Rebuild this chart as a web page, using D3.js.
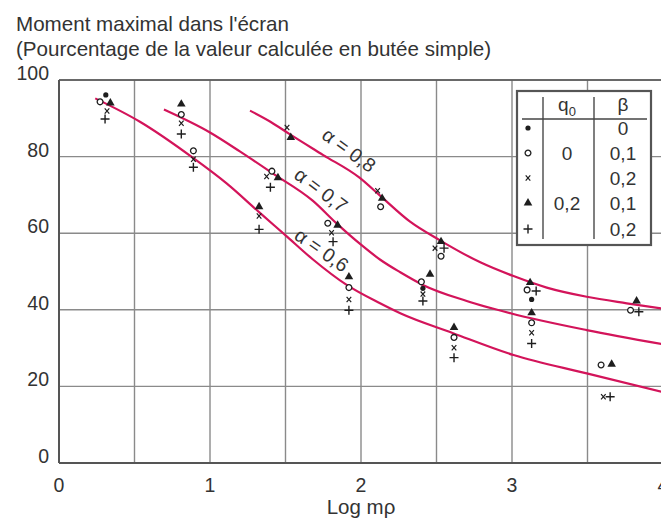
<!DOCTYPE html>
<html lang="fr">
<head>
<meta charset="UTF-8">
<title>Moment maximal dans l'écran</title>
<style>
  *{margin:0;padding:0;}
  body{background:#fff;}
  svg text{font-family:"Liberation Sans",Arial,Helvetica,sans-serif;fill:#333;}
</style>
</head>
<body>
<div id="chart"></div>
<script src="https://cdn.jsdelivr.net/npm/d3@7"></script>
<script>
// axis ticks
var xTicks = [0, 1, 2, 3, 4]
var yTicks = [0, 20, 40, 60, 80, 100]

// measured points, [log mρ, %]
var dots = [[0.31, 96.1], [2.41, 45.6], [3.13, 42.7]]
var circles = [[0.272, 94.3], [0.81, 91.0], [0.89, 81.5], [1.41, 76.2], [1.78, 62.6], [1.92, 45.8],
  [2.13, 66.9], [2.53, 54.0], [2.40, 47.3], [2.616, 32.8], [3.10, 45.2], [3.13, 36.6], [3.59, 25.6], [3.785, 39.9]]
var crosses = [[0.318, 91.9], [0.81, 88.7], [0.89, 79.3], [1.325, 64.5], [1.375, 74.8], [1.51, 87.6], [1.805, 60.1],
  [1.92, 42.7], [2.11, 71.1], [2.49, 56.1], [2.41, 44.1], [2.616, 30.1], [3.13, 34.0], [3.605, 17.3]]
var triangles = [[0.34, 94.0], [0.81, 93.7], [1.325, 66.9], [1.45, 74.5], [1.535, 85.0], [1.845, 62.1], [1.92, 48.6],
  [2.14, 69.1], [2.53, 57.8], [2.457, 49.3], [2.616, 35.4], [3.12, 47.1], [3.13, 39.2], [3.66, 25.8], [3.825, 42.3]]
var pluses = [[0.305, 89.8], [0.81, 85.9], [0.89, 77.2], [1.325, 61.0], [1.40, 72.0], [1.815, 57.8], [1.92, 39.9],
  [2.55, 56.1], [2.41, 42.3], [2.616, 27.5], [3.16, 44.9], [3.13, 31.2], [3.65, 17.3], [3.84, 39.5]]

// fitted curves
var alpha08 = [[1.265, 92.0], [1.40, 89.1], [1.53, 85.8], [1.75, 80.4], [1.99, 74.5], [2.126, 69.8], [2.325, 63.0],
  [2.52, 58.2], [2.79, 52.4], [3.01, 48.8], [3.23, 45.8], [3.495, 43.4], [3.76, 41.7], [4.0, 40.3]]
var alpha07 = [[0.695, 92.3], [1.0, 86.3], [1.2, 81.3], [1.42, 75.5], [1.68, 68.5], [1.84, 62.5], [2.0, 57.0],
  [2.13, 53.0], [2.26, 49.8], [2.41, 46.5], [2.7, 42.3], [2.99, 39.1], [3.495, 34.7], [4.0, 31.0]]
var alpha06 = [[0.24, 95.2], [0.536, 89.1], [0.89, 79.6], [1.11, 73.0], [1.325, 65.5], [1.51, 59.1], [1.68, 53.2],
  [1.905, 46.5], [2.126, 41.7], [2.26, 39.1], [2.61, 33.9], [3.01, 28.2], [3.495, 23.4], [4.0, 18.5]]

var curveNames = ['α = 0,8', 'α = 0,7', 'α = 0,6']
var curveLabelPos = [[1.92, 81.7, 36], [1.735, 71.3, 37], [1.74, 55.6, 35]]

var legendQ0 = ['', '0', '', '0,2', '']
var legendBeta = ['0', '0,1', '0,2', '0,1', '0,2']

var W = 661, H = 521
var svg = d3.select('#chart').append('svg').attr('width', W).attr('height', H)

var x = d3.scaleLinear().domain([0, 4]).range([59, 663])
var y = d3.scaleLinear().domain([0, 100]).range([463, 80])

// title
svg.append('text').attr('x', 16).attr('y', 31).style('font-size', '20.6px').text("Moment maximal dans l'écran")
svg.append('text').attr('x', 16).attr('y', 55.5).style('font-size', '20.6px').text('(Pourcentage de la valeur calculée en butée simple)')

// grid
var g = svg.append('g')
g.selectAll('.vg').data(d3.range(0.5, 4.01, 0.5)).enter().append('line')
  .attr('x1', d => x(d)).attr('x2', d => x(d)).attr('y1', y(0)).attr('y2', y(100))
  .attr('stroke', '#8a8a8a').attr('stroke-width', 1.4)
g.selectAll('.hg').data(yTicks.slice(1)).enter().append('line')
  .attr('x1', x(0)).attr('x2', x(4)).attr('y1', d => y(d)).attr('y2', d => y(d))
  .attr('stroke', '#8a8a8a').attr('stroke-width', 1.4)
g.append('line').attr('x1', x(0)).attr('x2', x(4)).attr('y1', y(100)).attr('y2', y(100)).attr('stroke', '#555').attr('stroke-width', 1.6)
g.append('line').attr('x1', x(0)).attr('x2', x(4)).attr('y1', y(0)).attr('y2', y(0)).attr('stroke', '#555').attr('stroke-width', 2)
g.append('line').attr('x1', x(0)).attr('x2', x(0)).attr('y1', y(0)).attr('y2', y(100)).attr('stroke', '#555').attr('stroke-width', 2)

// tick labels
svg.selectAll('.yl').data(yTicks).enter().append('text')
  .attr('x', 49).attr('y', d => y(d)).attr('text-anchor', 'end').style('font-size', '19.5px').text(d => d)
svg.selectAll('.xl').data(xTicks).enter().append('text')
  .attr('x', d => x(d)).attr('y', 491.5).attr('text-anchor', 'middle').style('font-size', '19.5px').text(d => d)
svg.append('text').attr('x', x(2)).attr('y', 514).attr('text-anchor', 'middle').style('font-size', '20.5px').text('Log mρ')

// curves
var line = d3.line().x(d => x(d[0])).y(d => y(d[1])).curve(d3.curveMonotoneX)
svg.selectAll('.curve').data([alpha08, alpha07, alpha06]).enter().append('path')
  .attr('d', line).attr('fill', 'none').attr('stroke', '#d3145a').attr('stroke-width', 2.2)

svg.selectAll('.clab').data(curveLabelPos).enter().append('text')
  .attr('transform', d => `translate(${x(d[0])},${y(d[1])}) rotate(${d[2]})`)
  .attr('text-anchor', 'middle').attr('dy', '0.35em').style('font-size', '19.5px')
  .text((d, i) => curveNames[i])

// markers
var ink = '#1e1e1e'
var tri = d3.symbol().type(d3.symbolTriangle).size(32)
function drawDot(sel) { sel.append('circle').attr('r', 2.6).attr('fill', ink) }
function drawCircle(sel) { sel.append('circle').attr('r', 2.9).attr('fill', '#fff').attr('stroke', ink).attr('stroke-width', 1.3) }
function drawCross(sel) { sel.append('path').attr('d', 'M-2.3,-2.6L2.3,2.6M2.3,-2.6L-2.3,2.6').attr('stroke', ink).attr('stroke-width', 1.2) }
function drawTri(sel) { sel.append('path').attr('d', tri).attr('fill', ink) }
function drawPlus(sel) { sel.append('path').attr('d', 'M-4.5,0H4.5M0,-4.5V4.5').attr('stroke', ink).attr('stroke-width', 1.4) }

var sets = [[pluses, drawPlus], [crosses, drawCross], [circles, drawCircle], [dots, drawDot], [triangles, drawTri]]
sets.forEach(function (s) {
  var m = svg.append('g').selectAll('g').data(s[0]).enter().append('g')
    .attr('transform', d => `translate(${x(d[0])},${y(d[1])})`)
  s[1](m)
})

// legend table
var lg = svg.append('g').attr('transform', 'translate(517,91)')
lg.append('rect').attr('width', 134).attr('height', 154).attr('fill', '#fff').attr('stroke', '#555').attr('stroke-width', 2.2)
lg.append('line').attr('x1', 26).attr('x2', 26).attr('y1', 6).attr('y2', 148).attr('stroke', '#555').attr('stroke-width', 1.5)
lg.append('line').attr('x1', 77).attr('x2', 77).attr('y1', 6).attr('y2', 148).attr('stroke', '#555').attr('stroke-width', 1.5)
lg.append('line').attr('x1', 5).attr('x2', 130).attr('y1', 28).attr('y2', 28).attr('stroke', '#444').attr('stroke-width', 1.5)
var qh = lg.append('text').attr('x', 50).attr('y', 20).attr('text-anchor', 'middle').style('font-size', '19px').text('q')
qh.append('tspan').attr('dy', 5).style('font-size', '13px').text('0')
lg.append('text').attr('x', 106).attr('y', 20).attr('text-anchor', 'middle').style('font-size', '19px').text('β')

var rowY = [37, 62, 87, 112, 138]
var legSym = [drawDot, drawCircle, drawCross, drawTri, drawPlus]
legSym.forEach(function (f, i) {
  f(lg.append('g').attr('transform', `translate(11,${rowY[i]})`))
})
lg.selectAll('.q0').data(legendQ0).enter().append('text')
  .attr('x', 50).attr('y', (d, i) => rowY[i] + 7).attr('text-anchor', 'middle').style('font-size', '19px').text(d => d)
lg.selectAll('.be').data(legendBeta).enter().append('text')
  .attr('x', 106).attr('y', (d, i) => rowY[i] + 7).attr('text-anchor', 'middle').style('font-size', '19px').text(d => d)
</script>
</body>
</html>
